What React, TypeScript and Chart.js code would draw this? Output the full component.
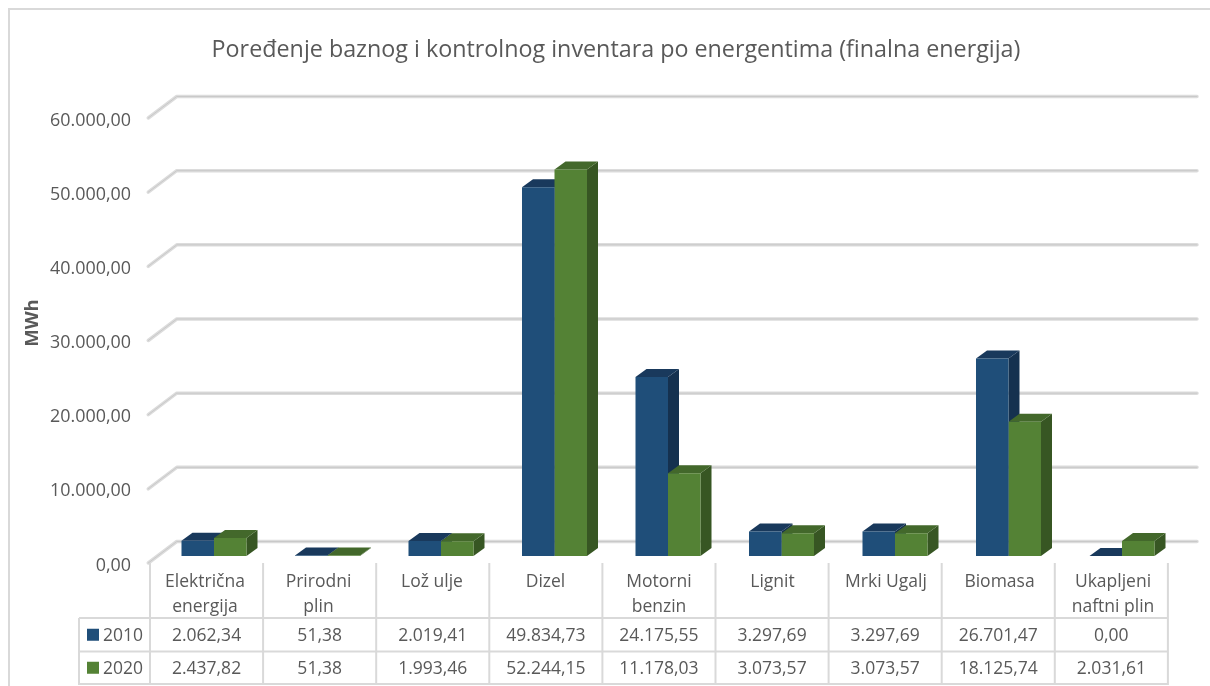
import React, { useEffect, useRef } from "react";
import { Chart, registerables } from "chart.js";

Chart.register(...registerables);

const categories: string[][] = [
  ["Električna", "energija"],
  ["Prirodni", "plin"],
  ["Lož ulje"],
  ["Dizel"],
  ["Motorni", "benzin"],
  ["Lignit"],
  ["Mrki Ugalj"],
  ["Biomasa"],
  ["Ukapljeni", "naftni plin"],
];
const series2010 = [2062.34, 51.38, 2019.41, 49834.73, 24175.55, 3297.69, 3297.69, 26701.47, 0];
const series2020 = [2437.82, 51.38, 1993.46, 52244.15, 11178.03, 3073.57, 3073.57, 18125.74, 2031.61];
const seriesNames = ["2010", "2020"];
const titleText = "Poređenje baznog i kontrolnog inventara po energentima (finalna energija)";
const axisTitle = "MWh";

const FONT = "'Open Sans'";
const TEXT = "#595959";
const LINE = "#d9d9d9";
const fronts = ["#1f4e79", "#548235"];
const tops = ["#19395c", "#43682b"];
const sides = ["#15314f", "#375623"];

const fmt = (v: number) =>
  v.toLocaleString("de-DE", { minimumFractionDigits: 2, maximumFractionDigits: 2 });

const DX = 11;
const DY = 8;
const GRID_SHIFT = -2.5;

const threeD = {
  id: "threeD",
  afterLayout(chart: any) {
    // the reference title is centred on the plot plus its tick labels, not on the canvas
    if (chart.titleBlock) chart.titleBlock.left = 53.25;
  },
  beforeDraw(chart: any) {
    const { ctx, chartArea: a, scales } = chart;
    ctx.save();
    // outer frame
    ctx.strokeStyle = LINE;
    ctx.lineWidth = 2;
    ctx.beginPath();
    ctx.moveTo(9, 686);
    ctx.lineTo(9, 9);
    ctx.lineTo(1210, 9);
    ctx.stroke();
    // gridlines in perspective
    const y = scales.y;
    for (const t of y.ticks) {
      const py = y.getPixelForValue(t.value) + GRID_SHIFT;
      const pts = [
        [a.left - 9, py],
        [a.left + 19.5, py - 21.5],
        [a.right + 18.25, py - 21.5],
      ];
      const stroke = (c: string, w: number) => {
        ctx.strokeStyle = c;
        ctx.lineWidth = w;
        ctx.lineCap = "round";
        ctx.lineJoin = "round";
        ctx.beginPath();
        pts.forEach((p, i) => (i ? ctx.lineTo(p[0], p[1]) : ctx.moveTo(p[0], p[1])));
        ctx.stroke();
      };
      stroke("#dcdcdc", 3.5);
      stroke("#c9c9c9", 1);
    }
    ctx.restore();
  },
  beforeDatasetsDraw(chart: any) {
    const { ctx } = chart;
    ctx.save();
    [0, 1].forEach((di) => {
      chart.getDatasetMeta(di).data.forEach((b: any) => {
        const l = b.x - b.width / 2;
        const r = b.x + b.width / 2;
        const t = b.y;
        const bs = b.base;
        ctx.fillStyle = sides[di];
        ctx.beginPath();
        ctx.moveTo(r, t);
        ctx.lineTo(r + DX, t - DY);
        ctx.lineTo(r + DX, bs - DY);
        ctx.lineTo(r, bs);
        ctx.closePath();
        ctx.fill();
        ctx.fillStyle = tops[di];
        ctx.beginPath();
        ctx.moveTo(l, t);
        ctx.lineTo(l + DX, t - DY);
        ctx.lineTo(r + DX, t - DY);
        ctx.lineTo(r, t);
        ctx.closePath();
        ctx.fill();
      });
    });
    ctx.restore();
  },
  afterDraw(chart: any) {
    const { ctx } = chart;
    const colL = 150;
    const colW = 113.1;
    const keyL = 79;
    const rows = [618, 651.5, 684];
    const n = categories.length;
    ctx.save();
    ctx.strokeStyle = LINE;
    ctx.lineWidth = 2;
    ctx.beginPath();
    for (let i = 0; i <= n; i++) {
      ctx.moveTo(colL + i * colW, 563);
      ctx.lineTo(colL + i * colW, rows[2] + 1);
    }
    rows.forEach((ry) => {
      ctx.moveTo(keyL, ry);
      ctx.lineTo(colL + n * colW, ry);
    });
    ctx.moveTo(keyL, rows[0]);
    ctx.lineTo(keyL, rows[2] + 1);
    ctx.stroke();

    ctx.font = `17.5px ${FONT}`;
    ctx.fillStyle = TEXT;
    ctx.textBaseline = "middle";
    [series2010, series2020].forEach((vals, r) => {
      const cy = (rows[r] + rows[r + 1]) / 2 + 1;
      ctx.fillStyle = fronts[r];
      ctx.fillRect(87, cy - 7, 12, 12);
      ctx.fillStyle = TEXT;
      ctx.textAlign = "left";
      ctx.fillText(seriesNames[r], 103, cy);
      ctx.textAlign = "center";
      vals.forEach((v, i) => ctx.fillText(fmt(v), colL + (i + 0.5) * colW, cy));
    });

    // axis title
    ctx.translate(33, 323);
    ctx.rotate(-Math.PI / 2);
    ctx.textAlign = "center";
    ctx.font = `bold 18.5px ${FONT}`;
    ctx.fillStyle = TEXT;
    ctx.fillText(axisTitle, 0, 0);
    ctx.restore();
  },
};

export default function App() {
  const ref = useRef<HTMLCanvasElement>(null);
  useEffect(() => {
    const chart = new Chart(ref.current as HTMLCanvasElement, {
      type: "bar",
      data: {
        labels: categories as any,
        datasets: [
          { label: seriesNames[0], data: series2010, backgroundColor: fronts[0], yAxisID: "yBar" },
          { label: seriesNames[1], data: series2020, backgroundColor: fronts[1], yAxisID: "yBar" },
        ],
      },
      options: {
        animation: false,
        responsive: false,
        layout: { padding: { left: 0, right: 31.25, top: 0, bottom: 0 } },
        datasets: { bar: { categoryPercentage: 0.5727, barPercentage: 1, minBarLength: 0 } },
        plugins: {
          legend: { display: false },
          tooltip: { enabled: false },
          title: {
            display: true,
            text: titleText,
            color: TEXT,
            font: { family: FONT, size: 23.3, weight: "normal", lineHeight: 1.2 },
            padding: { top: 36, bottom: 56.54 },
          },
        },
        scales: {
          x: {
            grid: { display: false, drawTicks: false },
            border: { display: false },
            afterFit: (s: any) => {
              s.height = 120.5;
            },
            ticks: {
              color: TEXT,
              font: { family: FONT, size: 17.5, lineHeight: 1.4 },
              padding: 4.5,
              labelOffset: -9,
              maxRotation: 0,
              autoSkip: false,
            },
          },
          y: {
            position: "left",
            min: 0,
            max: 60000,
            grid: { display: false, drawTicks: false },
            border: { display: false },
            afterFit: (s: any) => {
              s.width = 157.25;
            },
            ticks: {
              stepSize: 10000,
              color: TEXT,
              font: { family: FONT, size: 17.9 },
              padding: 26.25,
              callback: (v: any) => fmt(Number(v)),
            },
          },
          yBar: { display: false, min: -1284, max: 58851 },
        },
      } as any,
      plugins: [threeD],
    });
    return () => chart.destroy();
  }, []);
  return (
    <div style={{ position: "absolute", left: 0, top: 0, width: 1210, height: 686, background: "#fff", overflow: "hidden" }}>
      <canvas ref={ref} width={1210} height={686} style={{ display: "block" }} />
    </div>
  );
}
